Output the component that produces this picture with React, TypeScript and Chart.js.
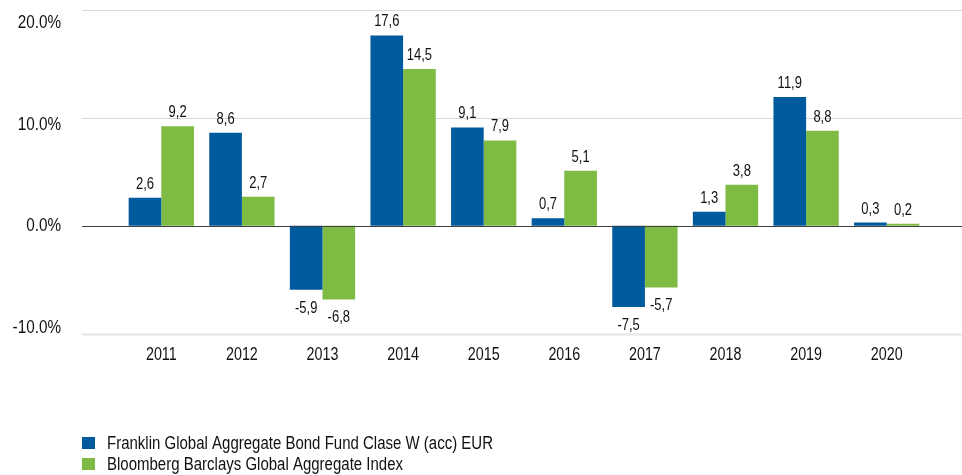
import React, { useEffect, useRef } from "react";
import { Chart, registerables } from "chart.js";

Chart.register(...registerables);

const categories = ["2011", "2012", "2013", "2014", "2015", "2016", "2017", "2018", "2019", "2020"];
const fundValues = [2.6, 8.6, -5.9, 17.6, 9.1, 0.7, -7.5, 1.3, 11.9, 0.3];
const indexValues = [9.2, 2.7, -6.8, 14.5, 7.9, 5.1, -5.7, 3.8, 8.8, 0.2];
const seriesNames = [
  "Franklin Global Aggregate Bond Fund Clase W (acc) EUR",
  "Bloomberg Barclays Global Aggregate Index",
];
const yTicks = [-10, 0, 10, 20];

const BLUE = "#005a9e";
const GREEN = "#7dbb42";
const TEXT = "#111111";
const FONT = "'Liberation Sans', Arial, sans-serif";

function drawText(ctx: CanvasRenderingContext2D, txt: string, x: number, y: number, size: number, sy: number) {
  ctx.save();
  ctx.translate(x, y);
  ctx.scale(1, sy);
  ctx.font = `${size}px ${FONT}`;
  ctx.fillText(txt, 0, 0);
  ctx.restore();
}

const customPlugin = {
  id: "custom",
  beforeDatasetsDraw(chart: any) {
    const { ctx } = chart;
    const y = chart.scales.y;
    ctx.save();
    yTicks.forEach((v) => {
      const py = Math.round(y.getPixelForValue(v)) + 0.5;
      ctx.beginPath();
      ctx.strokeStyle = v === 0 ? "#3f3f3f" : v === -10 ? "#e6e6e6" : "#d9d9d9";
      ctx.lineWidth = v === -10 ? 2 : 1.2;
      ctx.moveTo(82, py);
      ctx.lineTo(chart.width, py);
      ctx.stroke();
    });
    ctx.restore();
  },
  afterDatasetsDraw(chart: any) {
    const { ctx } = chart;
    const y = chart.scales.y;
    const x = chart.scales.x;
    ctx.save();
    const zy = Math.round(y.getPixelForValue(0)) + 0.5;
    ctx.beginPath();
    ctx.strokeStyle = "#3f3f3f";
    ctx.lineWidth = 1.2;
    ctx.moveTo(82, zy);
    ctx.lineTo(chart.width, zy);
    ctx.stroke();

    ctx.fillStyle = TEXT;
    ctx.textBaseline = "middle";

    // y tick labels
    const top = y.getPixelForValue(20);
    ctx.textAlign = "right";
    yTicks.forEach((v) => {
      const py = y.getPixelForValue(v);
      const ly = 23 + (py - top) * (305 / 324.5);
      drawText(ctx, v.toFixed(1) + "%", 61, ly, 15.3, 1.2);
    });

    // x tick labels
    ctx.textAlign = "center";
    categories.forEach((c, i) => {
      drawText(ctx, c, x.getPixelForValue(i), 355, 14.3, 1.25);
    });

    // data labels
    chart.data.datasets.forEach((ds: any, di: number) => {
      const meta = chart.getDatasetMeta(di);
      meta.data.forEach((bar: any, i: number) => {
        const v = ds.data[i];
        const txt = v.toFixed(1).replace(".", ",");
        const ly = v >= 0 ? bar.y - 13.5 : bar.y + 18.5;
        drawText(ctx, txt, bar.x, ly, 13, 1.25);
      });
    });

    // legend
    ctx.textAlign = "left";
    const rows = [443, 464];
    [BLUE, GREEN].forEach((c, i) => {
      ctx.fillStyle = c;
      ctx.fillRect(82, rows[i] - 6, 13, 12);
      ctx.fillStyle = TEXT;
      drawText(ctx, seriesNames[i], 107, rows[i] + 0.5, 15, 1.22);
    });
    ctx.restore();
  },
};

export default function App() {
  const ref = useRef<HTMLCanvasElement>(null);
  useEffect(() => {
    document.body.style.margin = "0";
    const chart = new Chart(ref.current!, {
      type: "bar",
      data: {
        labels: categories,
        datasets: [
          { label: seriesNames[0], data: fundValues, backgroundColor: BLUE, borderWidth: 0 },
          { label: seriesNames[1], data: indexValues, backgroundColor: GREEN, borderWidth: 0 },
        ],
      },
      options: {
        animation: false,
        responsive: false,
        maintainAspectRatio: false,
        layout: { padding: { left: 121, right: 35, top: 9.5, bottom: 0 } },
        plugins: { legend: { display: false }, tooltip: { enabled: false } },
        datasets: { bar: { categoryPercentage: 0.81, barPercentage: 1 } },
        scales: {
          x: {
            grid: { display: false, drawTicks: false },
            border: { display: false },
            ticks: { display: false },
            afterFit: (s: any) => { s.height = 475 - 334; },
          },
          y: {
            min: -10,
            max: 20,
            grid: { display: false },
            border: { display: false },
            ticks: { display: false, stepSize: 10 },
            afterFit: (s: any) => { s.width = 0; },
          },
        },
      },
      plugins: [customPlugin],
    });
    return () => chart.destroy();
  }, []);
  return (
    <div style={{ position: "absolute", left: 0, top: 0, width: 962, height: 475, background: "#fff" }}>
      <canvas ref={ref} width={962} height={475} style={{ display: "block" }} />
    </div>
  );
}
